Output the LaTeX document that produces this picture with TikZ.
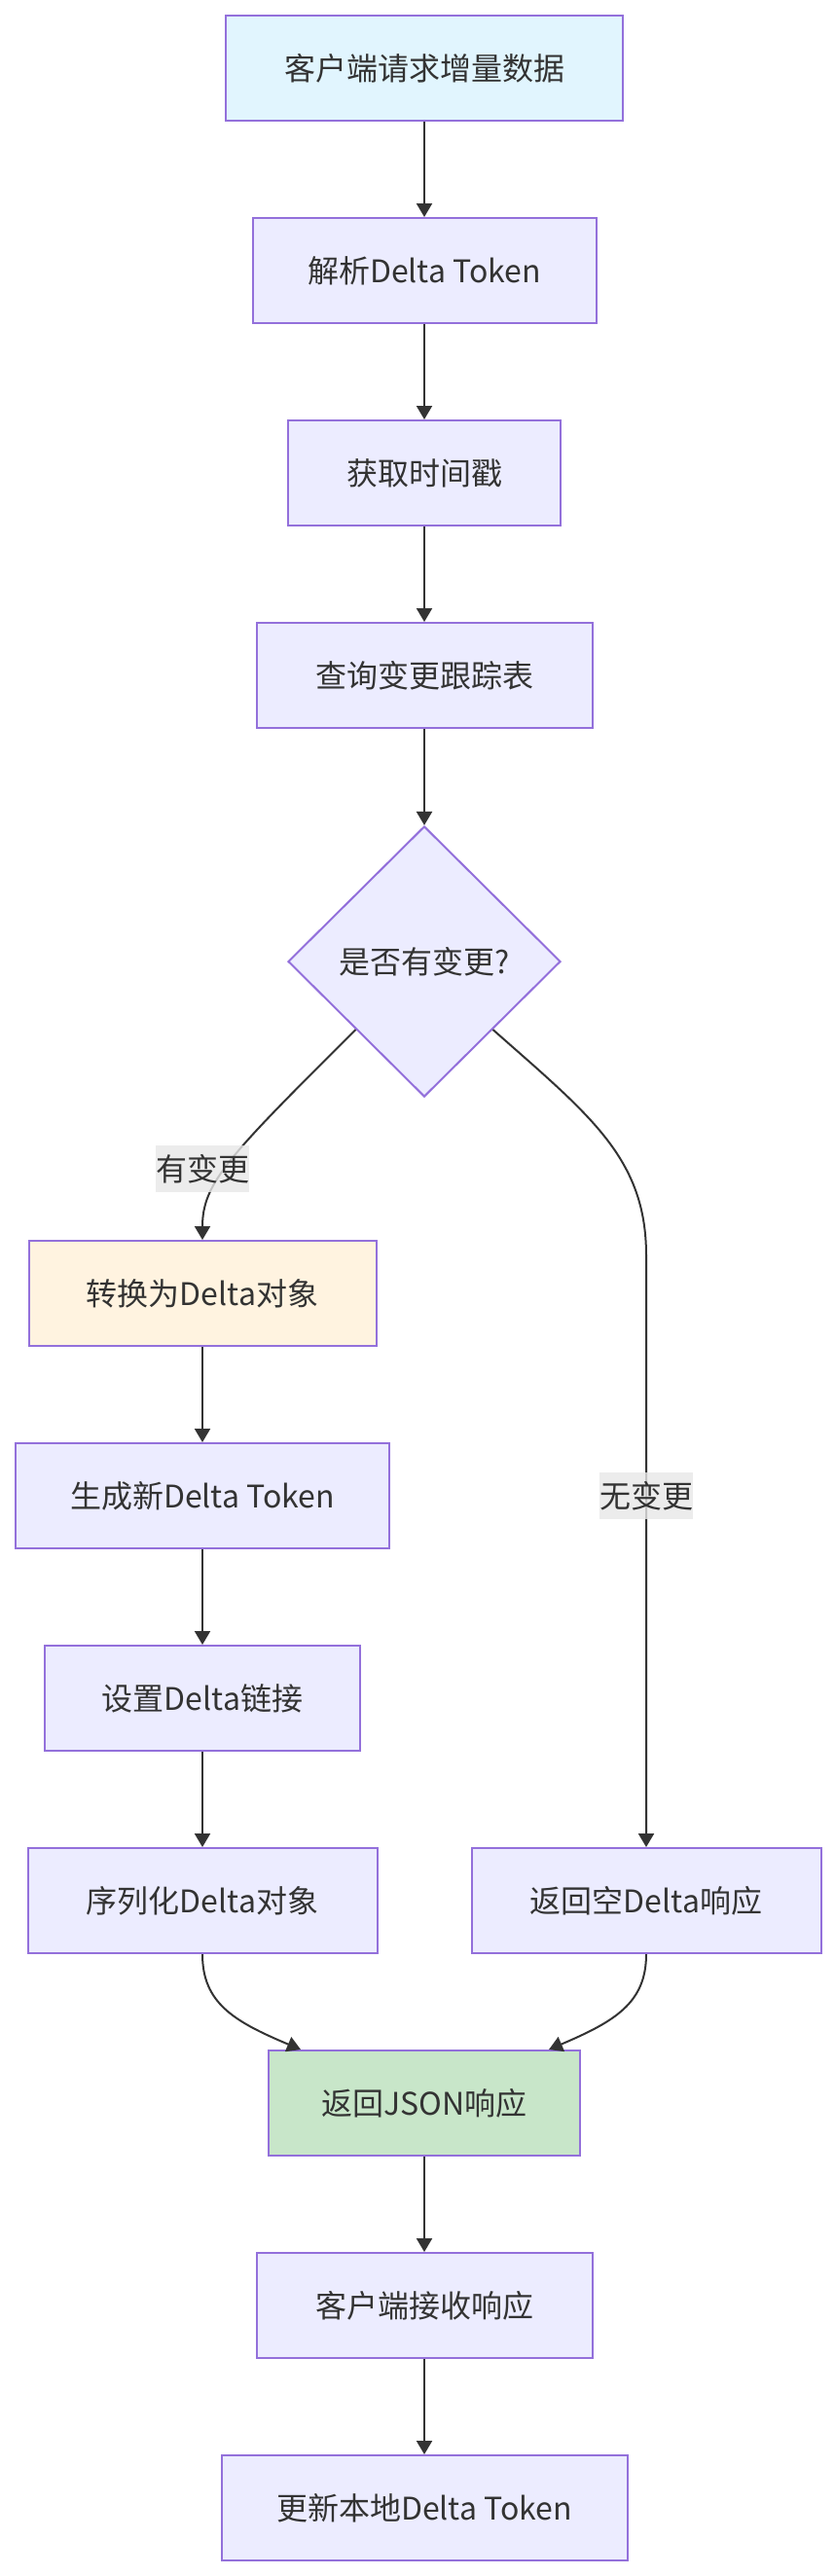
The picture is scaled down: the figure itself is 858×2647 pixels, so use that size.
\documentclass[tikz,border=0pt]{standalone}
\usepackage{fontspec}
\setmainfont{Noto Sans CJK SC}
\usetikzlibrary{arrows.meta,shapes.geometric,positioning}
\definecolor{boxfill}{HTML}{ECECFF}
\definecolor{boxline}{HTML}{9370DB}
\definecolor{txt}{HTML}{333333}
\definecolor{startfill}{HTML}{E1F5FE}
\definecolor{convfill}{HTML}{FFF3E0}
\definecolor{jsonfill}{HTML}{C8E6C9}
\definecolor{lblfill}{HTML}{E8E8E8}

\begin{document}
\begin{tikzpicture}[x=1pt,y=-1pt,->,>={Triangle[length=14pt,width=16pt]},
  line width=2pt,node distance=208pt,
  main node/.style={rectangle,draw=boxline,fill=boxfill,text=txt,
    font=\fontsize{32pt}{38pt}\selectfont,minimum height=108pt,inner sep=0pt},
  check node/.style={diamond,aspect=1,draw=boxline,fill=boxfill,text=txt,
    font=\fontsize{32pt}{38pt}\selectfont,minimum width=280pt,minimum height=278pt,inner sep=0pt},
  cond node/.style={fill=lblfill,fill opacity=0.8,text opacity=1,text=txt,
    font=\fontsize{32pt}{38pt}\selectfont,minimum height=48pt,inner sep=0pt}]

  \fill[white] (0,0) rectangle (858,2647);
  \useasboundingbox (0,0) rectangle (858,2647);

  \node[main node,fill=startfill,minimum width=408pt] (A) at (436,70)
    {客户端请求增量数据};
  \node[main node,minimum width=353pt] (B) [below of = A]
    {解析Delta Token};
  \node[main node,minimum width=280pt] (C) [below of = B]
    {获取时间戳};
  \node[main node,minimum width=345pt] (D) [below of = C]
    {查询变更跟踪表};
  \node[check node,node distance=294pt] (E) [below of = D]
    {是否有变更?};

  \node[main node,fill=convfill,minimum width=357pt] (F) at (208,1329)
    {转换为Delta对象};
  \node[main node,minimum width=384pt] (G) [below of = F]
    {生成新Delta Token};
  \node[main node,minimum width=324pt] (H) [below of = G]
    {设置Delta链接};
  \node[main node,minimum width=359pt] (I) [below of = H]
    {序列化Delta对象};
  \node[main node,minimum width=359pt,node distance=456pt] (J) [right of = I]
    {返回空Delta响应};

  \node[main node,fill=jsonfill,minimum width=320pt] (K) at (436,2161)
    {返回JSON响应};
  \node[main node,minimum width=345pt] (L) [below of = K]
    {客户端接收响应};
  \node[main node,minimum width=417pt] (M) [below of = L]
    {更新本地Delta Token};

  \path[->,color=txt]
    (A) edge (B)
    (B) edge (C)
    (C) edge (D)
    (D) edge (E)
    (F) edge (G)
    (G) edge (H)
    (H) edge (I)
    (K) edge (L)
    (L) edge (M);

  % branches out of the check
  \draw[color=txt] (E.south west) .. controls (236,1187) and (208,1215) .. (F.north);
  \draw[color=txt] (E.south east) .. controls (606,1146) and (664,1190) .. (664,1290) -- (J.north);

  % both ends meet at the response
  \draw[color=txt] (I.south) .. controls (208,2058) and (240,2077) .. ([xshift=34pt]K.north west);
  \draw[color=txt] (J.south) .. controls (664,2058) and (632,2077) .. ([xshift=-33pt]K.north east);

  \node[cond node,minimum width=96pt] (yes) at (208,1201) {有变更};
  \node[cond node,minimum width=96pt] (no) at (664,1537) {无变更};

\end{tikzpicture}
\end{document}
